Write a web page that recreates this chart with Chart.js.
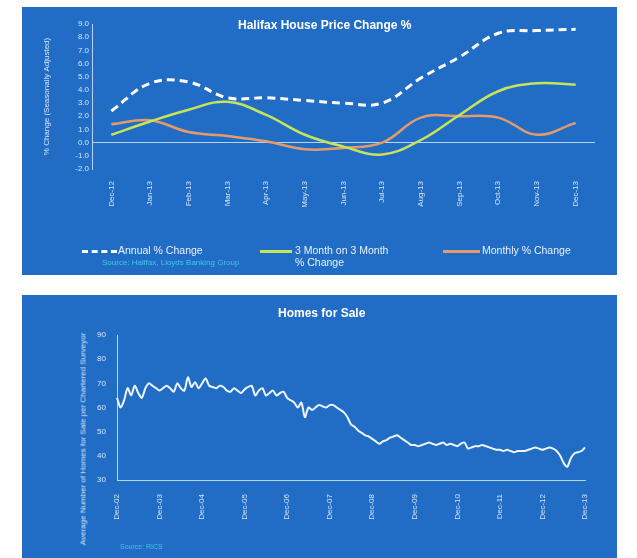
<!DOCTYPE html>
<html>
<head>
<meta charset="utf-8">
<script src="https://cdn.jsdelivr.net/npm/chart.js@4/dist/chart.umd.min.js"></script>
<style>
  body { margin:0; background:#fff; font-family:"Liberation Sans", Arial, sans-serif; }
  .panel { position:absolute; left:22px; width:595px; background:#216dc5; }
  .panel canvas { position:absolute; left:0; top:0; }
  .title { position:absolute; color:#fff; font-weight:bold; font-size:12px; white-space:nowrap; }
  .leg { position:absolute; color:#e8f0ff; font-size:10.5px; line-height:12px; white-space:nowrap; }
  .sw { position:absolute; height:0; }
  .src { position:absolute; color:#3fc6e6; font-size:8px; white-space:nowrap; }
  .ytitle { position:absolute; color:#d6e6fa; font-size:8px; white-space:nowrap;
            transform:translate(-50%,-50%) rotate(-90deg); }
</style>
</head>
<body>
<div class="panel" style="top:7px;height:268px;">
  <canvas id="priceChart" width="595" height="268"></canvas>
  <div class="title" style="left:216px;top:11px;">Halifax House Price Change %</div>
  <div class="sw" style="left:60px;top:243px;width:35px;border-top:3px dashed #fff;"></div>
  <div class="leg" style="left:96px;top:237px;">Annual % Change</div>
  <div class="sw" style="left:238px;top:243px;width:32px;border-top:3px solid #c6e45a;"></div>
  <div class="leg" style="left:273px;top:237px;">3 Month on 3 Month<br>% Change</div>
  <div class="sw" style="left:421px;top:243px;width:37px;border-top:3px solid #e49a6a;"></div>
  <div class="leg" style="left:460px;top:237px;">Monthly % Change</div>
  <div class="src" style="left:80px;top:251px;">Source: Halifax, Lloyds Banking Group</div>
</div>
<div class="panel" style="top:295px;height:263px;">
  <canvas id="saleChart" width="595" height="263"></canvas>
  <div class="title" style="left:256px;top:11px;">Homes for Sale</div>
  <div class="ytitle" style="left:61px;top:144px;">Average Number of Homes for Sale per Chartered Surveyor</div>
  <div class="src" style="left:98px;top:248px;font-size:7px;">Source: RICS</div>
</div>
<script>
// --- Halifax: variación de precios ---
const months = ['Dec-12','Jan-13','Feb-13','Mar-13','Apr-13','May-13','Jun-13',
                'Jul-13','Aug-13','Sep-13','Oct-13','Nov-13','Dec-13'];
const annualChange = [2.4, 4.5, 4.6, 3.4, 3.4, 3.2, 3.0, 3.0, 4.9, 6.5, 8.3, 8.5, 8.6];
const threeMonthChange = [0.6, 1.6, 2.5, 3.1, 2.1, 0.6, -0.3, -0.9, 0.2, 2.1, 3.9, 4.5, 4.4];
const monthlyChange = [1.4, 1.7, 0.8, 0.5, 0.1, -0.5, -0.4, 0.0, 1.9, 2.0, 1.9, 0.6, 1.5];

// --- Viviendas en venta (mensual) ---
const saleTicks = ['Dec-02','Dec-03','Dec-04','Dec-05','Dec-06','Dec-07',
                   'Dec-08','Dec-09','Dec-10','Dec-11','Dec-12','Dec-13'];
const homesForSale = [
  64, 60, 63, 68, 65, 69, 66, 64, 68, 70, 69, 68,
  67, 68, 69, 68, 66.5, 70, 68, 67, 72.5, 68.5, 70.5, 68,
  70, 72, 69, 68.5, 68, 69, 68.5, 67, 66.5, 68, 67, 66,
  67.5, 68.5, 69, 65, 67, 68, 65, 66, 67, 65, 66, 66.5,
  64, 63, 62, 60, 62, 56, 60, 59, 60, 61, 60.5, 60,
  61, 61, 60, 59, 58, 56, 53, 52, 50.5, 49.5, 48.5, 48,
  47, 46, 45, 46, 46.5, 47.5, 48, 48.5, 47.5, 46.5, 45.5, 44.5,
  44.5, 44, 44.5, 45, 45.5, 45, 44.5, 45, 45.5, 44.5, 45, 44.5,
  44, 45, 45.5, 43, 43.5, 44, 44, 44.5, 44, 43.5, 43, 42.5,
  42.5, 42, 42.5, 42, 41.5, 42, 42, 42, 42.5, 43, 43.5, 43,
  42.5, 43, 43.5, 43, 42, 40, 37, 35.5, 39, 41, 41.5, 42, 43.5
];

const tickColor = '#d6e6fa';
const axisColor = '#b9d3f2';
const tickFont = { size: 8 };

new Chart(document.getElementById('priceChart'), {
  type: 'line',
  data: {
    labels: months,
    datasets: [
      { label: 'Annual % Change', data: annualChange, borderColor: '#ffffff',
        borderWidth: 3, borderDash: [8, 5], pointRadius: 0, tension: 0.4 },
      { label: '3 Month on 3 Month % Change', data: threeMonthChange, borderColor: '#c6e45a',
        borderWidth: 2.5, pointRadius: 0, tension: 0.4 },
      { label: 'Monthly % Change', data: monthlyChange, borderColor: '#e49a6a',
        borderWidth: 2.5, pointRadius: 0, tension: 0.4 }
    ]
  },
  options: {
    responsive: false, devicePixelRatio: 1, animation: false,
    layout: { padding: { left: 16, right: 22, top: 17, bottom: 64 } },
    plugins: { legend: { display: false }, tooltip: { enabled: false } },
    scales: {
      x: {
        offset: true,
        grid: { display: false },
        border: { display: false },
        ticks: { color: tickColor, font: tickFont, maxRotation: 90, minRotation: 90, autoSkip: false, padding: 4 },
        afterFit: s => { s.height = 42; }
      },
      y: {
        min: -2, max: 9,
        ticks: { stepSize: 1, autoSkip: false, color: tickColor, font: tickFont, callback: v => v.toFixed(1) },
        grid: { drawTicks: false, color: c => c.tick && c.tick.value === 0 ? axisColor : 'transparent' },
        border: { display: true, color: axisColor },
        title: { display: true, text: '% Change (Seasonally Adjusted)', color: tickColor, font: { size: 8 } },
        afterFit: s => { s.width = 54; }
      }
    }
  }
});

new Chart(document.getElementById('saleChart'), {
  type: 'line',
  data: {
    labels: homesForSale.map((v, i) => i),
    datasets: [
      { label: 'Homes for Sale', data: homesForSale, borderColor: '#eef5ff',
        borderWidth: 2, pointRadius: 0, tension: 0.3 }
    ]
  },
  options: {
    responsive: false, devicePixelRatio: 1, animation: false,
    layout: { padding: { left: 57, right: 32, top: 40, bottom: 36 } },
    plugins: { legend: { display: false }, tooltip: { enabled: false } },
    scales: {
      x: {
        grid: { display: false },
        border: { display: true, color: axisColor },
        ticks: {
          color: tickColor, font: tickFont, maxRotation: 90, minRotation: 90, autoSkip: false, padding: 6,
          callback: (v, i) => i % 12 === 0 ? saleTicks[i / 12] : null
        },
        afterFit: s => { s.height = 42; }
      },
      y: {
        min: 30, max: 90,
        ticks: { stepSize: 10, autoSkip: false, color: tickColor, font: tickFont },
        grid: { display: false },
        border: { display: true, color: axisColor },
        afterFit: s => { s.width = 38; }
      }
    }
  }
});
</script>
</body>
</html>
